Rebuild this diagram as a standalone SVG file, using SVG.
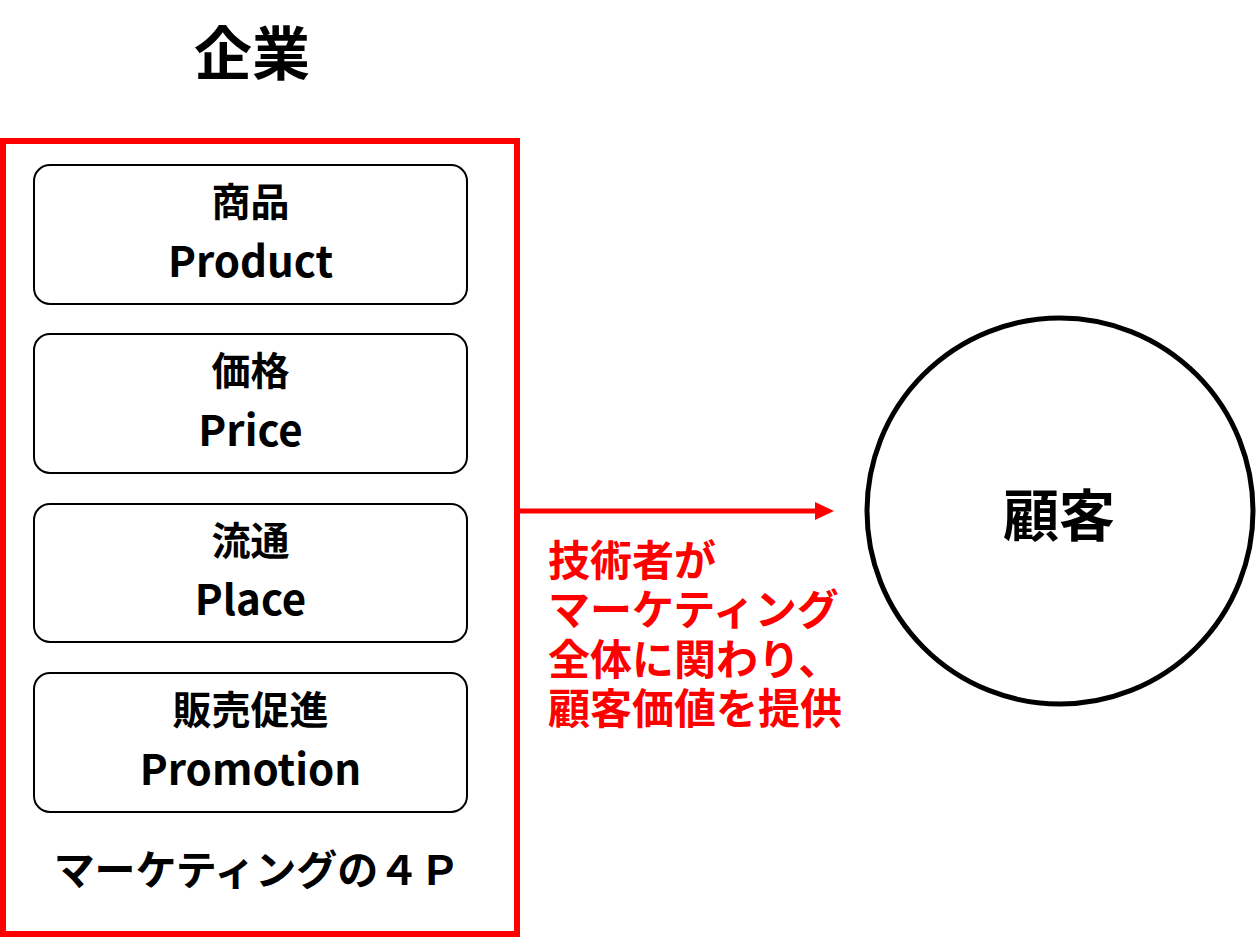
<svg xmlns="http://www.w3.org/2000/svg" width="1257" height="937" viewBox="0 0 1257 937">
<style>
text{font-family:"Noto Sans CJK JP","Noto Sans",sans-serif;font-weight:700;}
.box{fill:#fff;stroke:#000;stroke-width:2;}
.jp{font-size:39px;text-anchor:middle;fill:#000;}
.en{font-size:42px;text-anchor:middle;fill:#000;}
.red{font-size:42px;fill:#ff0000;}
</style>
<rect width="1257" height="937" fill="#fff"/>
<g id="title"><text x="252" y="75" font-size="58" text-anchor="middle">企業</text></g>
<g id="frame">
<rect x="3" y="141" width="514" height="793" fill="none" stroke="#ff0000" stroke-width="6"/>
<text x="257" y="885" font-size="41" text-anchor="middle">マーケティングの４Ｐ</text>
</g>
<g id="product"><rect class="box" x="34" y="165" width="433" height="139" rx="16"/><text class="jp" x="250.5" y="216">商品</text><text class="en" x="250.5" y="277">Product</text></g>
<g id="price"><rect class="box" x="34" y="334" width="433" height="139" rx="16"/><text class="jp" x="250.5" y="385">価格</text><text class="en" x="250.5" y="446">Price</text></g>
<g id="place"><rect class="box" x="34" y="504" width="433" height="138" rx="16"/><text class="jp" x="250.5" y="555">流通</text><text class="en" x="250.5" y="615">Place</text></g>
<g id="promotion"><rect class="box" x="34" y="673" width="433" height="139" rx="16"/><text class="jp" x="250.5" y="724">販売促進</text><text class="en" x="250.5" y="785">Promotion</text></g>
<g id="customer"><circle cx="1060" cy="511" r="193" fill="#fff" stroke="#000" stroke-width="5"/><text x="1059" y="536" font-size="56" text-anchor="middle">顧客</text></g>
<g id="connectors">
<line x1="520" y1="511" x2="816" y2="511" stroke="#ff0000" stroke-width="5"/>
<polygon points="815,502 834,511 815,520" fill="#ff0000"/>
</g>
<g id="note">
<text class="red" x="548" y="576">技術者が</text>
<text class="red" x="548" y="625">マーケティング</text>
<text class="red" x="548" y="675">全体に関わり、</text>
<text class="red" x="548" y="724">顧客価値を提供</text>
</g>
</svg>
